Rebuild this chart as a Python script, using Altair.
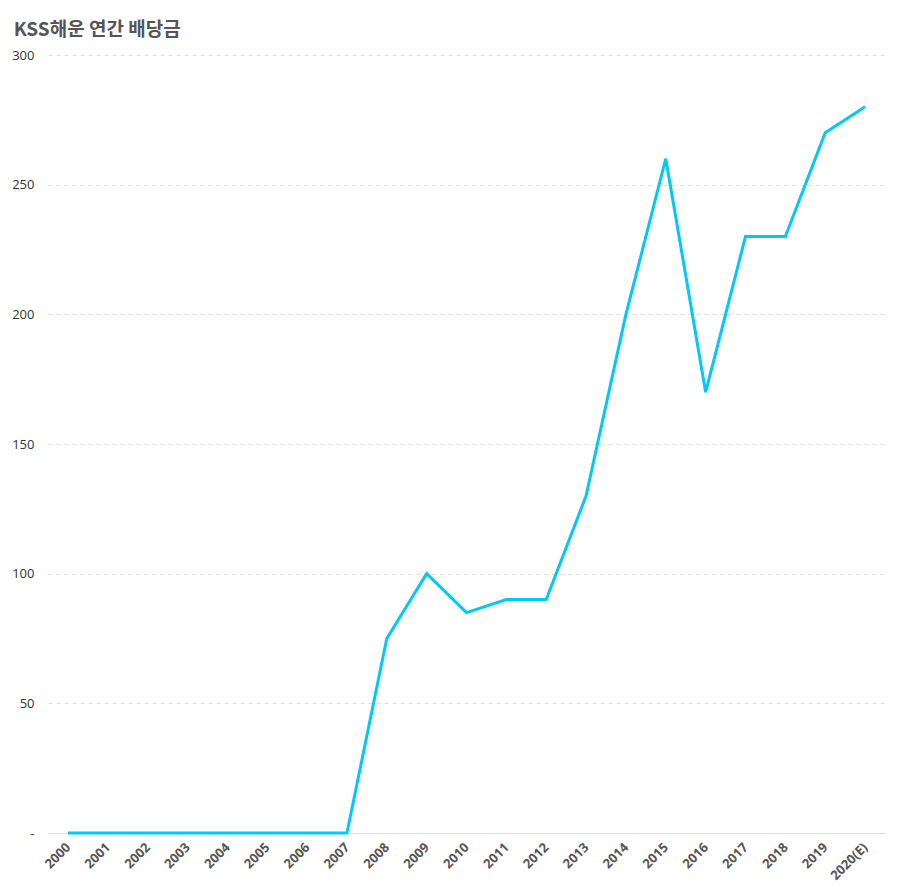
import altair as alt
import pandas as pd

years = ["2000", "2001", "2002", "2003", "2004", "2005", "2006", "2007", "2008", "2009",
         "2010", "2011", "2012", "2013", "2014", "2015", "2016", "2017", "2018", "2019", "2020(E)"]
dividends = [0, 0, 0, 0, 0, 0, 0, 0, 75, 100, 85, 90, 90, 130, 200, 260, 170, 230, 230, 270, 280]

df = pd.DataFrame({"year": years, "dividend": dividends})

chart = alt.Chart(df).mark_line(color="#00C8F8", strokeWidth=3).encode(
    x=alt.X("year:N", sort=years, title=None,
            scale=alt.Scale(paddingOuter=0.5, paddingInner=1),
            axis=alt.Axis(labelAngle=-45, labelAlign="right", labelBaseline="middle",
                          labelFontSize=13, labelFontWeight="bold", labelColor="#555555",
                          labelFont="Open Sans", ticks=False, domainColor="#dddddd",
                          labelPadding=12, grid=False)),
    y=alt.Y("dividend:Q", title=None,
            scale=alt.Scale(domain=[0, 300]),
            axis=alt.Axis(values=[0, 50, 100, 150, 200, 250, 300],
                          labelExpr="datum.value == 0 ? '-' : datum.label",
                          labelFontSize=13, labelColor="#333333", labelFont="Open Sans",
                          labelPadding=14, ticks=False, domain=False,
                          gridColor="#dddddd", gridDash=[4, 4], gridWidth=1)),
).properties(
    width=837,
    height=778,
    title=alt.TitleParams("KSS해운 연간 배당금", anchor="start", dx=2, offset=9,
                          fontSize=19, fontWeight="bold", color="#555555",
                          font="Noto Sans CJK KR"),
    padding={"left": 40, "top": 47, "right": 8, "bottom": 50},
    autosize=alt.AutoSizeParams(type="none"),
).configure_view(stroke=None)

chart.save("out.html", embed_options={"renderer": "svg", "actions": False})
